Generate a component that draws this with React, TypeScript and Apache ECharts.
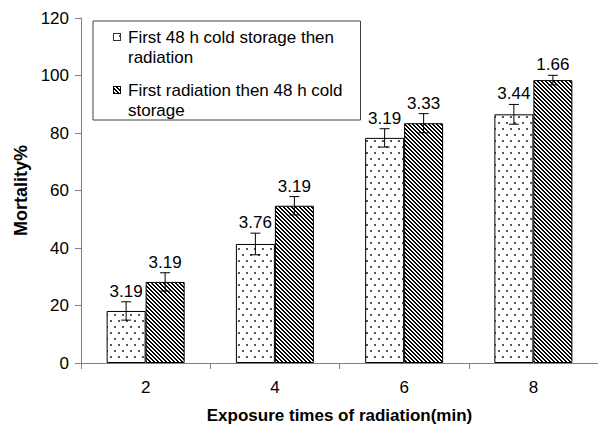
import React, { useEffect, useRef } from "react";
import * as echarts from "echarts";

// ---- data ----
const categories = ["2", "4", "6", "8"];
const seriesNames = [
  "First 48 h cold storage then\nradiation",
  "First radiation then 48 h cold\nstorage",
];
const coldThenRadiation = [18.1, 41.4, 78.3, 86.5];
const radiationThenCold = [28.2, 54.7, 83.4, 98.4];
const coldThenRadiationErr = [3.19, 3.76, 3.19, 3.44];
const radiationThenColdErr = [3.19, 3.19, 3.33, 1.66];
const yMin = 0;
const yMax = 120;
const yInterval = 20;
const xTitle = "Exposure times of radiation(min)";
const yTitle = "Mortality%";

const FONT = '"Liberation Sans", Arial, Helvetica, sans-serif';
const BAR_W = 39;

function makeDots(): HTMLCanvasElement {
  const c = document.createElement("canvas");
  c.width = 8;
  c.height = 12;
  const ctx = c.getContext("2d")!;
  ctx.fillStyle = "#ffffff";
  ctx.fillRect(0, 0, 8, 12);
  ctx.fillStyle = "#555555";
  ctx.fillRect(2, 2, 2, 2);
  ctx.fillRect(6, 8, 2, 2);
  return c;
}

function makeHatch(): HTMLCanvasElement {
  const c = document.createElement("canvas");
  c.width = 4;
  c.height = 4;
  const ctx = c.getContext("2d")!;
  const img = ctx.createImageData(4, 4);
  for (let y = 0; y < 4; y++) {
    for (let x = 0; x < 4; x++) {
      const on = (((x - y) % 4) + 4) % 4 < 2;
      const k = (y * 4 + x) * 4;
      const v = on ? 0 : 255;
      img.data[k] = v;
      img.data[k + 1] = v;
      img.data[k + 2] = v;
      img.data[k + 3] = 255;
    }
  }
  ctx.putImageData(img, 0, 0);
  return c;
}

function makeLegendIcon(fill: HTMLCanvasElement, border: string): string {
  const c = document.createElement("canvas");
  c.width = 10;
  c.height = 40;
  const ctx = c.getContext("2d")!;
  const pat = ctx.createPattern(fill, "repeat");
  if (pat) ctx.fillStyle = pat;
  ctx.fillRect(0, 6, 8, 8);
  ctx.strokeStyle = border;
  ctx.lineWidth = 1;
  ctx.strokeRect(0.5, 6.5, 7, 7);
  return c.toDataURL();
}

function errorSeries(values: number[], errs: number[], offset: number, name: string) {
  return {
    type: "custom",
    name,
    z: 5,
    silent: true,
    data: values.map((v, i) => [i, v, errs[i]]),
    encode: { x: 0, y: 1 },
    renderItem: (_params: any, api: any) => {
      const i = api.value(0);
      const v = api.value(1);
      const e = api.value(2);
      const top = api.coord([i, v + e]);
      const bot = api.coord([i, v - e]);
      const x = top[0] + offset;
      const lineStyle = { stroke: "#000", lineWidth: 1 };
      return {
        type: "group",
        children: [
          { type: "line", shape: { x1: x, y1: top[1], x2: x, y2: bot[1] }, style: lineStyle },
          { type: "line", shape: { x1: x - 5, y1: top[1], x2: x + 5, y2: top[1] }, style: lineStyle },
          { type: "line", shape: { x1: x - 5, y1: bot[1], x2: x + 5, y2: bot[1] }, style: lineStyle },
          {
            type: "text",
            style: {
              text: e.toFixed(2),
              x,
              y: top[1] - 10.5,
              align: "center",
              verticalAlign: "middle",
              font: `17px ${FONT}`,
              fill: "#000",
            },
          },
        ],
      };
    },
  };
}

export default function App() {
  const ref = useRef<HTMLDivElement>(null);

  useEffect(() => {
    if (!ref.current) return;
    const chart = echarts.init(ref.current, undefined, { renderer: "svg" });
    const dots = makeDots();
    const hatch = makeHatch();
    const axisColor = "#808080";

    const option: any = {
      animation: false,
      textStyle: { fontFamily: FONT },
      grid: { left: 81, right: -9, top: 18, bottom: 66, containLabel: false },
      legend: {
        orient: "vertical",
        left: 93,
        top: 21,
        padding: [6, 18, 0, 20],
        itemGap: 13,
        itemWidth: 10,
        itemHeight: 40,
        borderColor: "#404040",
        borderWidth: 1,
        selectedMode: false,
        textStyle: { fontSize: 17, lineHeight: 20, color: "#000", fontFamily: FONT },
        data: [
          { name: seriesNames[0], icon: "image://" + makeLegendIcon(dots, "#333") },
          { name: seriesNames[1], icon: "image://" + makeLegendIcon(hatch, "#000") },
        ],
      },
      xAxis: {
        type: "category",
        data: categories,
        name: xTitle,
        nameLocation: "middle",
        nameGap: 44,
        nameTextStyle: { fontWeight: "bold", fontSize: 17, color: "#000", fontFamily: FONT },
        axisLine: { show: true, lineStyle: { color: axisColor, width: 1 } },
        axisTick: { show: true, length: 6, interval: 0, lineStyle: { color: axisColor } },
        axisLabel: { margin: 16, fontSize: 17, color: "#000", fontFamily: FONT },
        splitLine: { show: false },
      },
      yAxis: {
        type: "value",
        min: yMin,
        max: yMax,
        interval: yInterval,
        name: yTitle,
        nameLocation: "middle",
        nameGap: 48,
        nameRotate: 90,
        nameTextStyle: { fontWeight: "bold", fontSize: 18, color: "#000", fontFamily: FONT },
        axisLine: { show: true, lineStyle: { color: axisColor, width: 1 } },
        axisTick: { show: true, length: 6, lineStyle: { color: axisColor } },
        axisLabel: { margin: 12, fontSize: 17, color: "#000", fontFamily: FONT },
        splitLine: { show: false },
      },
      series: [
        {
          type: "bar",
          name: seriesNames[0],
          data: coldThenRadiation,
          barWidth: BAR_W,
          barGap: "0%",
          itemStyle: {
            color: { image: dots, repeat: "repeat", imageWidth: 8, imageHeight: 12 },
            borderColor: "#000",
            borderWidth: 1,
          },
        },
        {
          type: "bar",
          name: seriesNames[1],
          data: radiationThenCold,
          barWidth: BAR_W,
          barGap: "0%",
          itemStyle: {
            color: { image: hatch, repeat: "repeat", imageWidth: 4, imageHeight: 4 },
            borderColor: "#000",
            borderWidth: 1,
          },
        },
        errorSeries(coldThenRadiation, coldThenRadiationErr, -BAR_W / 2, "err1"),
        errorSeries(radiationThenCold, radiationThenColdErr, BAR_W / 2, "err2"),
      ],
    };
    chart.setOption(option);
    return () => chart.dispose();
  }, []);

  return (
    <div
      ref={ref}
      style={{ position: "absolute", left: 0, top: 0, width: 598, height: 429, background: "#fff" }}
    />
  );
}
